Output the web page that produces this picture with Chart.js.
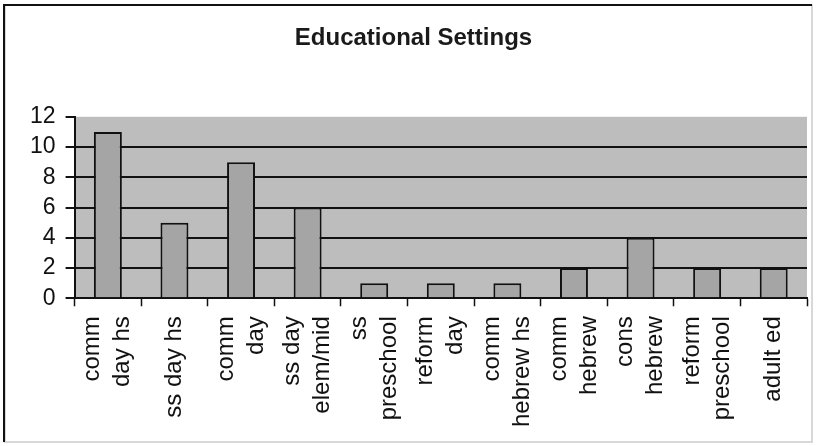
<!DOCTYPE html>
<html>
<head>
<meta charset="utf-8">
<script src="https://cdn.jsdelivr.net/npm/chart.js@4/dist/chart.umd.min.js"></script>
<style>
  html, body { margin: 0; padding: 0; background: #fff; }
  #wrap { width: 817px; height: 446px; }
</style>
</head>
<body>
<div id="wrap"><canvas id="eduChart" width="817" height="446"></canvas></div>
<script>
'use strict';

// chart data
const settingLabels = [
  ['comm', 'day hs'],
  ['ss day hs'],
  ['comm', 'day'],
  ['ss day', 'elem/mid'],
  ['ss', 'preschool'],
  ['reform', 'day'],
  ['comm', 'hebrew hs'],
  ['comm', 'hebrew'],
  ['cons', 'hebrew'],
  ['reform', 'preschool'],
  ['adult ed']
];
const settingCounts = [11, 5, 9, 6, 1, 1, 1, 2, 4, 2, 2];
const yTicks = [0, 2, 4, 6, 8, 10, 12];

// white page, frame round the chart, gray plot area
const framePlugin = {
  id: 'frame',
  beforeDraw(chart) {
    const c = chart.ctx;
    const a = chart.chartArea;
    c.save();
    c.fillStyle = '#ffffff';
    c.fillRect(0, 0, chart.width, chart.height);
    c.fillStyle = '#bdbdbd';
    c.fillRect(a.left, a.top, a.right - a.left, a.bottom - a.top);
    c.lineWidth = 2;
    c.strokeStyle = '#d8d8d8';
    c.strokeRect(5, 5, 807, 437);
    c.strokeStyle = '#111';
    c.beginPath();
    c.moveTo(4, 442);
    c.lineTo(4, 5);
    c.lineTo(812, 5);
    c.stroke();
    c.restore();

    // center the stacked lines of each rotated x label on its tick
    const items = chart.scales.x.getLabelItems();
    if (!items._centered) {
      items.forEach(it => {
        const n = Array.isArray(it.label) ? it.label.length : 1;
        it.textOffset -= (n - 1) * it.font.lineHeight / 2;
      });
      items._centered = true;
    }
  }
};

const ctx = document.getElementById('eduChart').getContext('2d');
new Chart(ctx, {
  type: 'bar',
  data: {
    labels: settingLabels,
    datasets: [{
      data: settingCounts,
      backgroundColor: '#a5a5a5',
      borderColor: '#111',
      borderWidth: 2,
      categoryPercentage: 1,
      barPercentage: 0.42
    }]
  },
  options: {
    responsive: false,
    animation: false,
    layout: { padding: { left: 20, right: 10, top: 8, bottom: 9 } },
    plugins: {
      legend: { display: false },
      tooltip: { enabled: false },
      title: {
        display: true,
        text: 'Educational Settings',
        color: '#1a1a1a',
        font: { family: 'Liberation Sans, Arial, sans-serif', size: 24, weight: 'bold' },
        padding: { top: 16, bottom: 64 }
      }
    },
    scales: {
      x: {
        offset: true,
        border: { color: '#111', width: 2 },
        grid: {
          drawOnChartArea: false,
          drawTicks: true,
          tickLength: 8,
          tickColor: '#111',
          tickWidth: 1.5
        },
        ticks: {
          color: '#111',
          minRotation: 90,
          maxRotation: 90,
          autoSkip: false,
          padding: 10,
          font: { family: 'Liberation Sans, Arial, sans-serif', size: 24, lineHeight: 1.25 }
        }
      },
      y: {
        min: 0,
        max: 12,
        afterBuildTicks(scale) {
          scale.ticks = yTicks.map(v => ({ value: v }));
        },
        border: { color: '#111', width: 2 },
        grid: {
          color: c => (c.tick && c.tick.value === 12) ? 'rgba(0,0,0,0)' : '#111',
          lineWidth: 2,
          tickLength: 9,
          tickColor: '#111'
        },
        ticks: {
          color: '#111',
          autoSkip: false,
          padding: 10,
          font: { family: 'Liberation Sans, Arial, sans-serif', size: 23 }
        }
      }
    }
  },
  plugins: [framePlugin]
});
</script>
</body>
</html>
